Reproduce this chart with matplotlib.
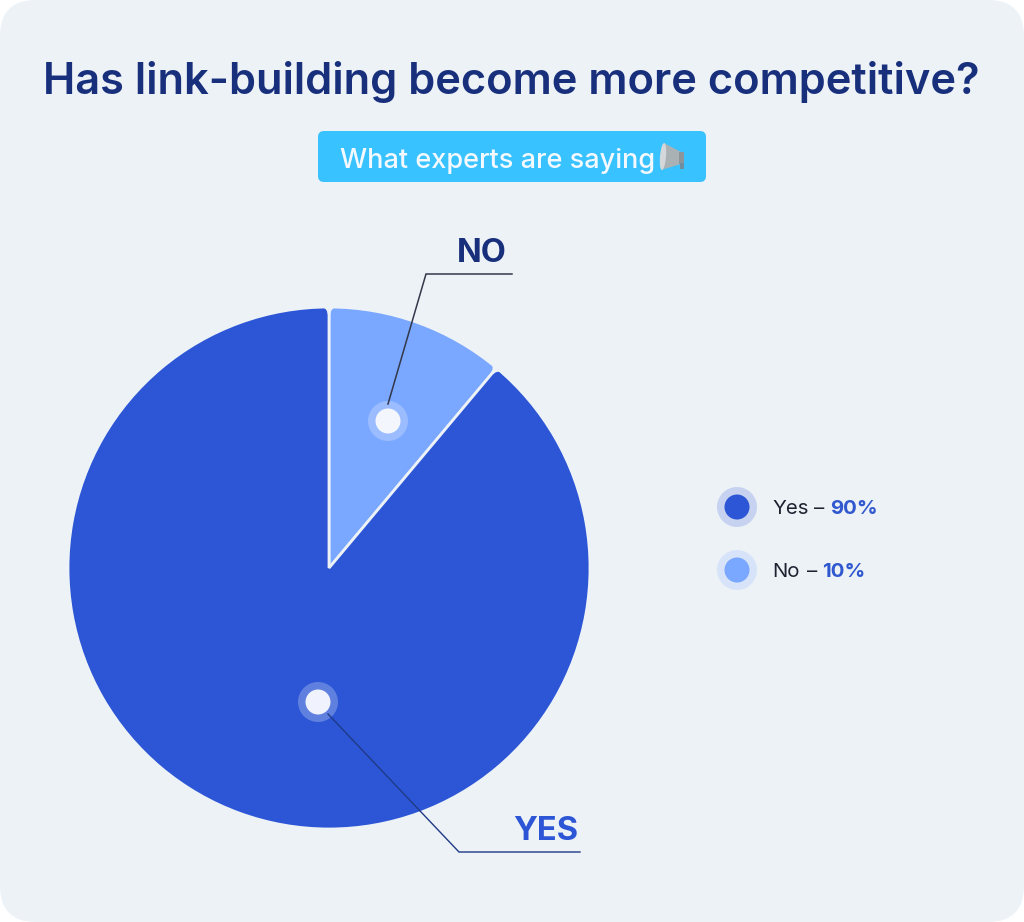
import numpy as np
import matplotlib
matplotlib.use('Agg')
import matplotlib.pyplot as plt
from matplotlib.patches import FancyBboxPatch, Circle, Polygon, Rectangle, Ellipse

# drawn wedge is a bit wider than the printed 10%, it spans about 40 degrees
shares = [11.1, 88.9]
slice_colors = ['#7aa7ff', '#2c56d6']
legend_names = ['Yes', 'No']
legend_values = ['90%', '10%']
legend_colors = ['#2c56d6', '#7aa7ff']

W, H = 1024, 922
BG = '#edf2f7'
plt.rcParams['font.family'] = ['Inter', 'DejaVu Sans']


def round_corner(axis, t, side, gap=1.5, rho=7):
    # covers the sharp outer corner of a slice with background colour
    t = t + side * gap / r
    radial = np.array([np.sin(t), -np.cos(t)])
    tangent = side * np.array([np.cos(t), np.sin(t)])
    p = np.array([cx, cy]) + r * radial
    c = p - rho * radial + rho * tangent
    a = np.linspace(0, np.pi / 2, 12)
    arc = [c + rho * (np.cos(x) * radial - np.sin(x) * tangent) for x in a]
    pts = [c + rho * radial + 2 * radial] + arc + [p - rho * radial - 2 * tangent, p - 2 * tangent + 2 * radial]
    axis.add_patch(Polygon(pts, fc=BG, ec='none'))


fig = plt.figure(figsize=(W / 100, H / 100), dpi=100, facecolor='white')
ax = fig.add_axes([0, 0, 1, 1])
ax.set_xlim(0, W)
ax.set_ylim(H, 0)
ax.axis('off')

# background card
ax.add_patch(FancyBboxPatch((36, 36), W - 72, H - 72, boxstyle='round,pad=36,rounding_size=36',
                            fc=BG, ec='none'))

ax.text(511.5, 82, 'Has link-building become more competitive?', ha='center', va='center',
        fontsize=31.3, fontweight='semibold', color='#182f7c')

# pill with subtitle
ax.add_patch(FancyBboxPatch((324, 137), 376, 39, boxstyle='round,pad=6,rounding_size=6',
                            fc='#38c2ff', ec='none'))
ax.text(498, 161, 'What experts are saying', ha='center', va='center', fontsize=19.5,
        fontweight='medium', color='#f4f9ff')

# megaphone
ax.add_patch(Polygon([(664, 143), (681, 152), (681, 164), (661, 170)], fc='#aab1b5', ec='none'))
ax.add_patch(Ellipse((663, 156.5), 6, 27, angle=5, fc='#d4d8da', ec='none'))
ax.add_patch(Rectangle((679, 152), 5, 12, fc='#8b959b', ec='none'))
ax.add_patch(Rectangle((680, 163), 4, 6, fc='#6f8fa0', ec='none'))

# pie gets its own axes so the angles are not flipped by the pixel axes
cx, cy, r = 329, 568, 261
pie_ax = fig.add_axes([(cx - r) / W, 1 - (cy + r) / H, 2 * r / W, 2 * r / H])
pie_ax.pie(shares, colors=slice_colors, startangle=90, counterclock=False, radius=1,
           wedgeprops={'edgecolor': BG, 'linewidth': 2.0})
pie_ax.set_xlim(-1, 1)
pie_ax.set_ylim(-1, 1)
pie_ax.patch.set_alpha(0)

over = fig.add_axes([0, 0, 1, 1])
over.set_xlim(0, W)
over.set_ylim(H, 0)
over.axis('off')
over.patch.set_alpha(0)

split = 2 * np.pi * shares[0] / sum(shares)
for t, side in [(0, 1), (0, -1), (split, -1), (split, 1)]:
    round_corner(over, t, side)

# leader lines
over.plot([388, 426, 512], [404, 274, 274], color='#33384a', lw=1.1, solid_joinstyle='miter')
over.plot([328, 459, 580], [714, 852, 852], color='#1f3a86', lw=1.0, solid_joinstyle='miter')

# markers on slices
over.add_patch(Circle((388, 421), 20, fc='#ffffff', alpha=0.25, ec='none'))
over.add_patch(Circle((388, 421), 12.5, fc='#f3f6fd', ec='none'))
over.add_patch(Circle((318, 702), 20, fc='#ffffff', alpha=0.25, ec='none'))
over.add_patch(Circle((318, 702), 12.5, fc='#f0f3fd', ec='none'))

over.text(481.5, 253, 'NO', ha='center', va='center', fontsize=23.5, fontweight='bold', color='#182f7c')
over.text(545.5, 831, 'YES', ha='center', va='center', fontsize=23.5, fontweight='bold', color='#2c56d6')

# legend
legend_y = [507, 570]
text_y = [509, 572]
name_x = [772, 772]
dash_x = [814, 807]
value_x = [830, 822]
for i in range(2):
    over.add_patch(Circle((737, legend_y[i]), 20, fc=legend_colors[i], alpha=0.2, ec='none'))
    over.add_patch(Circle((737, legend_y[i]), 12.5, fc=legend_colors[i], ec='none'))
    over.text(name_x[i], text_y[i], legend_names[i], ha='left', va='center', fontsize=14.7, color='#1d2230')
    over.text(dash_x[i], text_y[i], '–', ha='left', va='center', fontsize=14.7, color='#1d2230')
    over.text(value_x[i], text_y[i], legend_values[i], ha='left', va='center', fontsize=14.7,
              fontweight='bold', color='#3058cf')

fig.savefig('out.png', dpi=100)
